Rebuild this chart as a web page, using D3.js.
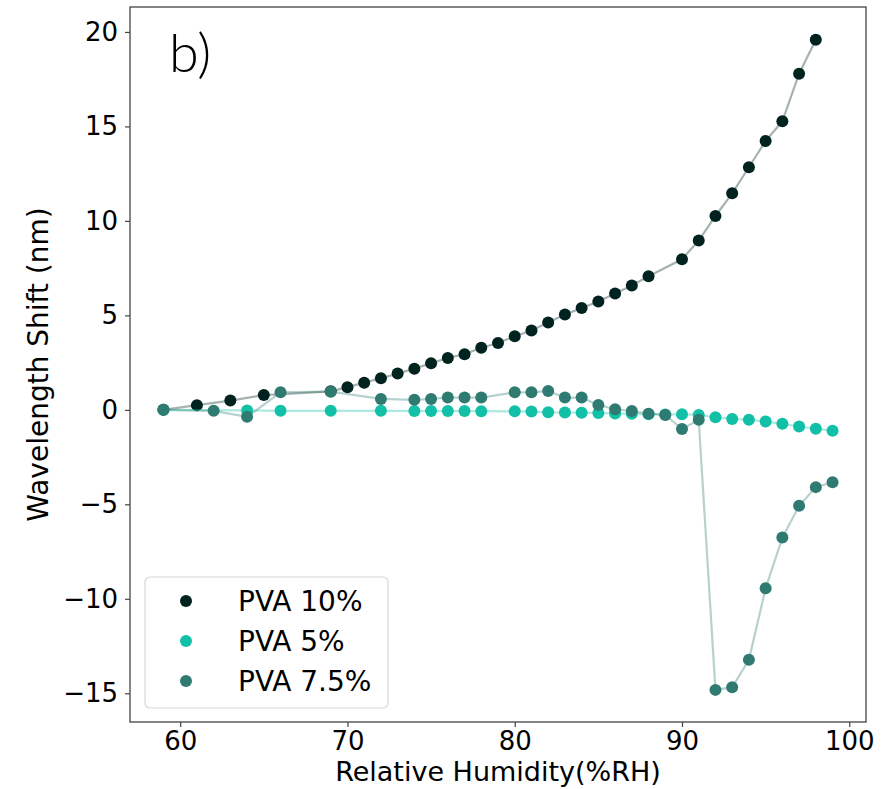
<!DOCTYPE html>
<html>
<head>
<meta charset="utf-8">
<script src="https://cdn.jsdelivr.net/npm/d3@7"></script>
<style>
  body { margin: 0; background: #fff; }
  text { font-family: "DejaVu Sans", sans-serif; }
</style>
</head>
<body>
<div id="chart"></div>
<script>
// humidity readings per film
var rh10 = [59, 61, 63, 65, 69, 70, 71, 72, 73, 74, 75, 76, 77, 78, 79, 80, 81, 82, 83, 84, 85, 86, 87, 88, 90, 91, 92, 93, 94, 95, 96, 97, 98];
var shift10 = [0, 0.25, 0.49, 0.78, 0.98, 1.2, 1.44, 1.67, 1.92, 2.18, 2.47, 2.75, 2.94, 3.29, 3.54, 3.9, 4.2, 4.62, 5.04, 5.39, 5.73, 6.16, 6.58, 7.07, 7.97, 8.96, 10.26, 11.46, 12.84, 14.23, 15.27, 17.79, 19.59];

var rh5 = [59, 64, 66, 69, 72, 74, 75, 76, 77, 78, 80, 81, 82, 83, 84, 85, 86, 87, 88, 89, 90, 91, 92, 93, 94, 95, 96, 97, 98, 99];
var shift5 = [0, -0.03, -0.05, -0.05, -0.05, -0.06, -0.06, -0.06, -0.06, -0.07, -0.08, -0.09, -0.13, -0.14, -0.15, -0.17, -0.19, -0.21, -0.23, -0.25, -0.23, -0.27, -0.39, -0.48, -0.53, -0.62, -0.74, -0.88, -1.0, -1.1];

var rh75 = [59, 62, 64, 66, 69, 72, 74, 75, 76, 77, 78, 80, 81, 82, 83, 84, 85, 86, 87, 88, 89, 90, 91, 92, 93, 94, 95, 96, 97, 98, 99];
var shift75 = [0, -0.05, -0.37, 0.93, 0.96, 0.58, 0.53, 0.58, 0.65, 0.65, 0.65, 0.93, 0.93, 1.0, 0.65, 0.65, 0.26, 0.03, -0.06, -0.2, -0.27, -1.01, -0.53, -14.82, -14.68, -13.23, -9.44, -6.76, -5.08, -4.09, -3.83];

var seriesNames = ["PVA 10%", "PVA 5%", "PVA 7.5%"];
var seriesColors = ["#01231f", "#12bfa7", "#2f7b72"];
var xTicks = [60, 70, 80, 90, 100];
var yTicks = [-15, -10, -5, 0, 5, 10, 15, 20];

var series = [
  { name: seriesNames[0], color: seriesColors[0], x: rh10, y: shift10 },
  { name: seriesNames[1], color: seriesColors[1], x: rh5, y: shift5 },
  { name: seriesNames[2], color: seriesColors[2], x: rh75, y: shift75 }
];

var width = 890, height = 789;
var plotLeft = 130, plotRight = 866, plotTop = 7, plotBottom = 722;

var svg = d3.select("#chart")
    .append("svg")
    .attr("width", width)
    .attr("height", height);

var x = d3.scaleLinear().domain([57, 101]).range([plotLeft, plotRight]);
var y = d3.scaleLinear().domain([-16.52, 21.32]).range([plotBottom, plotTop]);

var line = d3.line()
    .x(function (d) { return x(d[0]); })
    .y(function (d) { return y(d[1]); });

series.forEach(function (s) {
    var pts = s.x.map(function (v, i) { return [v, s.y[i]]; });
    var g = svg.append("g");
    g.append("path")
        .attr("d", line(pts))
        .attr("fill", "none")
        .attr("stroke", s.color)
        .attr("stroke-opacity", 0.35)
        .attr("stroke-width", 2.2);
    g.selectAll("circle")
        .data(pts)
        .enter()
        .append("circle")
        .attr("cx", function (d) { return x(d[0]); })
        .attr("cy", function (d) { return y(d[1]); })
        .attr("r", 6)
        .style("fill", s.color);
});

// frame
svg.append("rect")
    .attr("x", plotLeft)
    .attr("y", plotTop)
    .attr("width", plotRight - plotLeft)
    .attr("height", plotBottom - plotTop)
    .attr("fill", "none")
    .attr("stroke", "#444")
    .attr("stroke-width", 1.3);

var xAxis = svg.append("g")
    .attr("transform", "translate(0," + plotBottom + ")")
    .call(d3.axisBottom(x).tickValues(xTicks).tickSize(5).tickPadding(5));
var yAxis = svg.append("g")
    .attr("transform", "translate(" + plotLeft + ",0)")
    .call(d3.axisLeft(y).tickValues(yTicks).tickSize(5).tickPadding(7));

[xAxis, yAxis].forEach(function (a) {
    a.select(".domain").remove();
    a.selectAll(".tick line").attr("stroke", "#444").attr("stroke-width", 1.2);
    a.selectAll(".tick text")
        .attr("fill", "#000")
        .style("font-family", "DejaVu Sans")
        .style("font-size", "26px");
});

svg.append("text")
    .attr("x", (plotLeft + plotRight) / 2)
    .attr("y", 781)
    .attr("text-anchor", "middle")
    .style("font-size", "27px")
    .text("Relative Humidity(%RH)");

svg.append("text")
    .attr("transform", "translate(48," + ((plotTop + plotBottom) / 2) + ") rotate(-90)")
    .attr("text-anchor", "middle")
    .style("font-size", "28px")
    .text("Wavelength Shift (nm)");

svg.append("text")
    .attr("x", 169)
    .attr("y", 72)
    .style("font-family", "Lato")
    .style("font-weight", 300)
    .style("font-size", "54px")
    .text("b)");

// legend
var legend = svg.append("g");
legend.append("rect")
    .attr("x", 145)
    .attr("y", 577)
    .attr("width", 243)
    .attr("height", 131)
    .attr("rx", 5)
    .attr("fill", "#fff")
    .attr("fill-opacity", 0.8)
    .attr("stroke", "#d8d8d8")
    .attr("stroke-width", 1.2);

var rows = legend.selectAll("g.row")
    .data(series)
    .enter()
    .append("g")
    .attr("class", "row")
    .attr("transform", function (d, i) { return "translate(0," + (601 + i * 40) + ")"; });
rows.append("circle")
    .attr("cx", 186)
    .attr("cy", 0)
    .attr("r", 6)
    .style("fill", function (d) { return d.color; });
rows.append("text")
    .attr("x", 238)
    .attr("y", 0)
    .attr("dy", "0.36em")
    .style("font-size", "28px")
    .text(function (d) { return d.name; });
</script>
</body>
</html>
